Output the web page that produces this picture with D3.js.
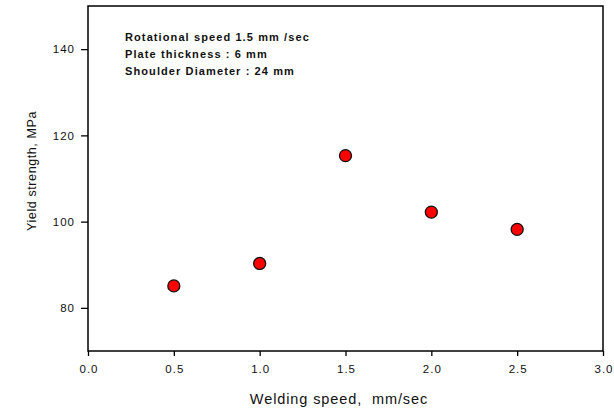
<!DOCTYPE html>
<html>
<head>
<meta charset="utf-8">
<script src="https://cdn.jsdelivr.net/npm/d3@7"></script>
<style>
  body { margin: 0; background: #fff; }
  svg { display: block; font-family: "Liberation Sans", Arial, sans-serif; }
</style>
</head>
<body>
<svg width="614" height="414"></svg>
<script>
// welding speed (mm/sec) vs yield strength (MPa)
const speeds = [0.5, 1.0, 1.5, 2.0, 2.5];
const strengths = [85.1, 90.3, 115.3, 102.2, 98.2];

const xTicks = [0, 0.5, 1.0, 1.5, 2.0, 2.5, 3.0];
const yTicks = [80, 100, 120, 140];

const notes = [
	"Rotational speed 1.5 mm /sec",
	"Plate thickness : 6 mm",
	"Shoulder Diameter : 24 mm"
];

const svg = d3.select('svg');
const margin = { top: 6, right: 11, bottom: 63, left: 88 };
const innerWidth = 614 - margin.left - margin.right;
const innerHeight = 414 - margin.top - margin.bottom;

const xScale = d3.scaleLinear().domain([0, 3]).range([0, innerWidth]);
const yScale = d3.scaleLinear().domain([70, 150]).range([innerHeight, 0]);

const g = svg.append('g')
	.attr('transform', `translate(${margin.left}, ${margin.top})`);

// frame
g.append('rect')
	.attr('width', innerWidth)
	.attr('height', innerHeight)
	.attr('fill', 'none')
	.attr('stroke', '#000')
	.attr('stroke-width', 1.5);

// x-as
const xAxis = g.append('g')
	.attr('transform', `translate(0, ${innerHeight})`)
	.call(d3.axisBottom(xScale).tickValues(xTicks).tickFormat(d3.format('.1f')).tickSize(5).tickPadding(9));
xAxis.select('.domain').remove();
xAxis.selectAll('.tick text').attr('dx', '0.5');

// y-as
const yAxis = g.append('g')
	.call(d3.axisLeft(yScale).tickValues(yTicks).tickSize(7).tickPadding(6));
yAxis.select('.domain').remove();

svg.selectAll('.tick line').attr('stroke-width', 1.3);
svg.selectAll('.tick text')
	.attr('font-size', 11.5)
	.attr('letter-spacing', 1)
	.attr('font-family', '"Liberation Sans", Arial, sans-serif')
	.attr('fill', '#111');

// labels
svg.append('text')
	.attr('x', 339)
	.attr('y', 404)
	.attr('text-anchor', 'middle')
	.attr('font-size', 14.5)
	.attr('letter-spacing', 0.9)
	.attr('fill', '#111')
	.text('Welding speed,\u00a0\u00a0mm/sec');

svg.append('text')
	.attr('transform', 'translate(36, 171) rotate(-90)')
	.attr('text-anchor', 'middle')
	.attr('font-size', 12.5)
	.attr('letter-spacing', 0.6)
	.attr('fill', '#111')
	.text('Yield strength, MPa');

// annotation
g.selectAll('.note').data(notes)
	.enter().append('text')
		.attr('class', 'note')
		.attr('x', 37)
		.attr('y', (d, i) => 35 + i * 17)
		.attr('font-size', 11)
		.attr('font-weight', 'bold')
		.attr('letter-spacing', 1.1)
		.attr('fill', '#111')
		.text(d => d);

// points
g.selectAll('circle').data(speeds)
	.enter().append('circle')
		.attr('cx', (d, i) => xScale(d))
		.attr('cy', (d, i) => yScale(strengths[i]))
		.attr('r', 6)
		.attr('fill', '#ff0000')
		.attr('stroke', '#111')
		.attr('stroke-width', 1.3);
</script>
</body>
</html>
